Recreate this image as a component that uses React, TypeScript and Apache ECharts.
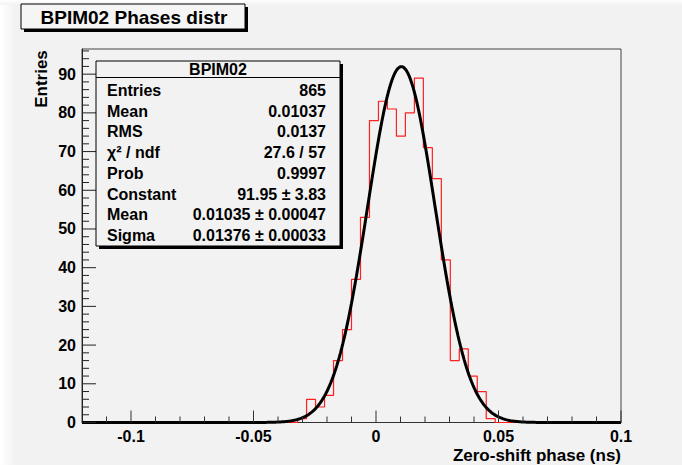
import React, { useEffect, useRef } from "react";
import * as echarts from "echarts";

// Histogram definition (ROOT TH1): 60 bins over [-0.12, 0.1]
const X_MIN = -0.12;
const X_MAX = 0.1;
const N_BINS = 60;
const Y_MAX = 96.5;

// Bin contents, bin 0 .. bin 59
const binCounts = [
  0, 0, 0, 0, 0, 0, 0, 0, 0, 0,
  0, 0, 0, 0, 0, 0, 0, 0, 0, 0,
  0, 0, 0, 0, 1, 6, 4, 7, 16, 24,
  37, 53, 78, 83, 81, 74, 80, 89, 71, 63,
  42, 16, 19, 12, 8, 1, 0, 0, 0, 0,
  0, 0, 0, 0, 0, 0, 0, 0, 0, 0,
];

// Gaussian fit parameters (as shown in the stats box)
const fitConstant = 91.95;
const fitMean = 0.01035;
const fitSigma = 0.01376;

// Axis ticks
const xMajorTicks = [-0.1, -0.05, 0, 0.05, 0.1];
const xMinorTicks = [-0.11, -0.09, -0.08, -0.07, -0.06, -0.04, -0.03, -0.02, -0.01, 0.01, 0.02, 0.03, 0.04, 0.06, 0.07, 0.08, 0.09];
const yMajorTicks = [0, 10, 20, 30, 40, 50, 60, 70, 80, 90];
const yMinorTicks = [2, 4, 6, 8, 12, 14, 16, 18, 22, 24, 26, 28, 32, 34, 36, 38, 42, 44, 46, 48, 52, 54, 56, 58, 62, 64, 66, 68, 72, 74, 76, 78, 82, 84, 86, 88, 92, 94, 96];

// Texts
const chartTitle = "BPIM02 Phases distr";
const xTitle = "Zero-shift phase (ns)";
const yTitle = "Entries";
const statsTitle = "BPIM02";
const statsLabels = ["Entries", "Mean", "RMS", "χ² / ndf", "Prob", "Constant", "Mean", "Sigma"];
const statsValues = ["865", "0.01037", "0.0137", "27.6 / 57", "0.9997", "91.95 ± 3.83", "0.01035 ± 0.00047", "0.01376 ± 0.00033"];

const FONT = "'Liberation Sans', Arial, Helvetica, sans-serif";

const GRID_LEFT = 82;
const GRID_TOP = 49;
const GRID_W = 539;
const GRID_H = 373.5;

function xLabelFormat(v: number): string {
  if (Math.abs(v) < 1e-9) return "0";
  return String(Math.round(v * 1000) / 1000);
}

function txt(text: string, x: number, y: number, size: number, align: string, extra: any = {}) {
  return {
    type: "text", x, y, z: 100, ...extra,
    style: { text, fontFamily: FONT, fontWeight: "bold", fontSize: size, fill: "#000", align, verticalAlign: "middle", textAlign: align, textVerticalAlign: "middle" },
  };
}

export default function App() {
  const ref = useRef<HTMLDivElement>(null);

  useEffect(() => {
    if (!ref.current) return;
    const chart = echarts.init(ref.current, null, { renderer: "svg" });

    const binWidth = (X_MAX - X_MIN) / N_BINS;
    const histData: number[][] = [];
    binCounts.forEach((c, k) => {
      histData.push([X_MIN + k * binWidth, c]);
      histData.push([X_MIN + (k + 1) * binWidth, c]);
    });

    const fitData: number[][] = [];
    const nPts = 440;
    for (let i = 0; i <= nPts; i++) {
      const x = X_MIN + ((X_MAX - X_MIN) * i) / nPts;
      const z = (x - fitMean) / fitSigma;
      fitData.push([x, fitConstant * Math.exp(-0.5 * z * z)]);
    }

    const statsX = 96, statsY = 61, statsW = 244, statsH = 185;
    const rowY0 = 90.5, rowStep = 20.7;

    const staticGraphics: any[] = [
      {
        type: "rect", z: -10, shape: { x: 0, y: 0, width: 16, height: 465 }, silent: true,
        style: { fill: new echarts.graphic.LinearGradient(0, 0, 1, 0, [{ offset: 0, color: "#ffffff" }, { offset: 1, color: "#f2f2f2" }]) },
      },
      {
        type: "rect", z: -10, shape: { x: 0, y: 0, width: 682, height: 5 }, silent: true,
        style: { fill: new echarts.graphic.LinearGradient(0, 0, 0, 1, [{ offset: 0, color: "#ffffff" }, { offset: 1, color: "#f2f2f2" }]) },
      },
      { type: "rect", z: 99, shape: { x: 24, y: 7, width: 224, height: 25 }, style: { fill: "#000" } },
      { type: "rect", z: 99, shape: { x: 21, y: 4, width: 224, height: 25 }, style: { fill: "#f5f5f5", stroke: "#000", lineWidth: 1 } },
      txt(chartTitle, 134, 17.5, 19, "center"),
      { type: "rect", z: 99, shape: { x: statsX + 3, y: statsY + 3, width: statsW, height: statsH }, style: { fill: "#000" } },
      { type: "rect", z: 99, shape: { x: statsX, y: statsY, width: statsW, height: statsH }, style: { fill: "#f2f2f2", stroke: "#000", lineWidth: 1 } },
      { type: "line", z: 100, shape: { x1: statsX, y1: 77.5, x2: statsX + statsW, y2: 77.5 }, style: { stroke: "#000", lineWidth: 1 } },
      txt(statsTitle, statsX + statsW / 2, 69.5, 16, "center"),
      txt(xTitle, 621, 455, 17, "right"),
      txt(yTitle, 41, 79, 17, "center", { rotation: Math.PI / 2 }),
    ];
    statsLabels.forEach((lab, i) => {
      staticGraphics.push(txt(lab, 107, rowY0 + i * rowStep, 16, "left"));
      staticGraphics.push(txt(statsValues[i], 326, rowY0 + i * rowStep, 16, "right"));
    });

    const option: any = {
      animation: false,
      backgroundColor: "#f2f2f2",
      grid: {
        left: GRID_LEFT, top: GRID_TOP, width: GRID_W, height: GRID_H,
        show: true, borderColor: "#444", borderWidth: 1, backgroundColor: "transparent",
      },
      xAxis: {
        type: "value", min: X_MIN, max: X_MAX, position: "bottom",
        axisLine: { show: true, onZero: false, lineStyle: { color: "#333", width: 1 } },
        axisTick: { show: false },
        axisLabel: {
          show: true, customValues: xMajorTicks, margin: 6, formatter: xLabelFormat,
          fontFamily: FONT, fontWeight: "bold", fontSize: 16, color: "#000",
        },
        splitLine: { show: false },
      },
      yAxis: {
        type: "value", min: 0, max: Y_MAX, position: "left",
        axisLine: { show: true, onZero: false, lineStyle: { color: "#222", width: 1 } },
        axisTick: { show: false },
        axisLabel: {
          show: true, customValues: yMajorTicks, margin: 6,
          fontFamily: FONT, fontWeight: "bold", fontSize: 16, color: "#000",
        },
        splitLine: { show: false },
      },
      series: [
        {
          type: "line", name: "histogram",
          data: histData, showSymbol: false, symbol: "none",
          lineStyle: { color: "#ff2020", width: 1.2 }, z: 3,
        },
        {
          type: "line", name: "gaus fit",
          data: fitData, showSymbol: false, symbol: "none",
          lineStyle: { color: "#000", width: 3 }, z: 4,
        },
      ],
      graphic: staticGraphics,
    };

    chart.setOption(option);

    // Tick marks placed through the axis scales (convertToPixel)
    const tickEls: any[] = [];
    const addX = (v: number, len: number) => {
      const p = chart.convertToPixel({ gridIndex: 0 }, [v, 0]) as number[];
      tickEls.push({ type: "line", z: 50, silent: true, shape: { x1: p[0], y1: p[1], x2: p[0], y2: p[1] - len }, style: { stroke: "#333", lineWidth: 1 } });
    };
    const addY = (v: number, len: number) => {
      const p = chart.convertToPixel({ gridIndex: 0 }, [X_MIN, v]) as number[];
      tickEls.push({ type: "line", z: 50, silent: true, shape: { x1: p[0], y1: p[1], x2: p[0] + len, y2: p[1] }, style: { stroke: "#222", lineWidth: 1 } });
    };
    xMajorTicks.forEach((v) => addX(v, 12));
    xMinorTicks.forEach((v) => addX(v, 6));
    yMajorTicks.forEach((v) => addY(v, 14));
    yMinorTicks.forEach((v) => addY(v, 7));
    chart.setOption({ graphic: staticGraphics.concat(tickEls) });

    return () => chart.dispose();
  }, []);

  return <div ref={ref} style={{ position: "fixed", left: 0, top: 0, width: 682, height: 465 }} />;
}
